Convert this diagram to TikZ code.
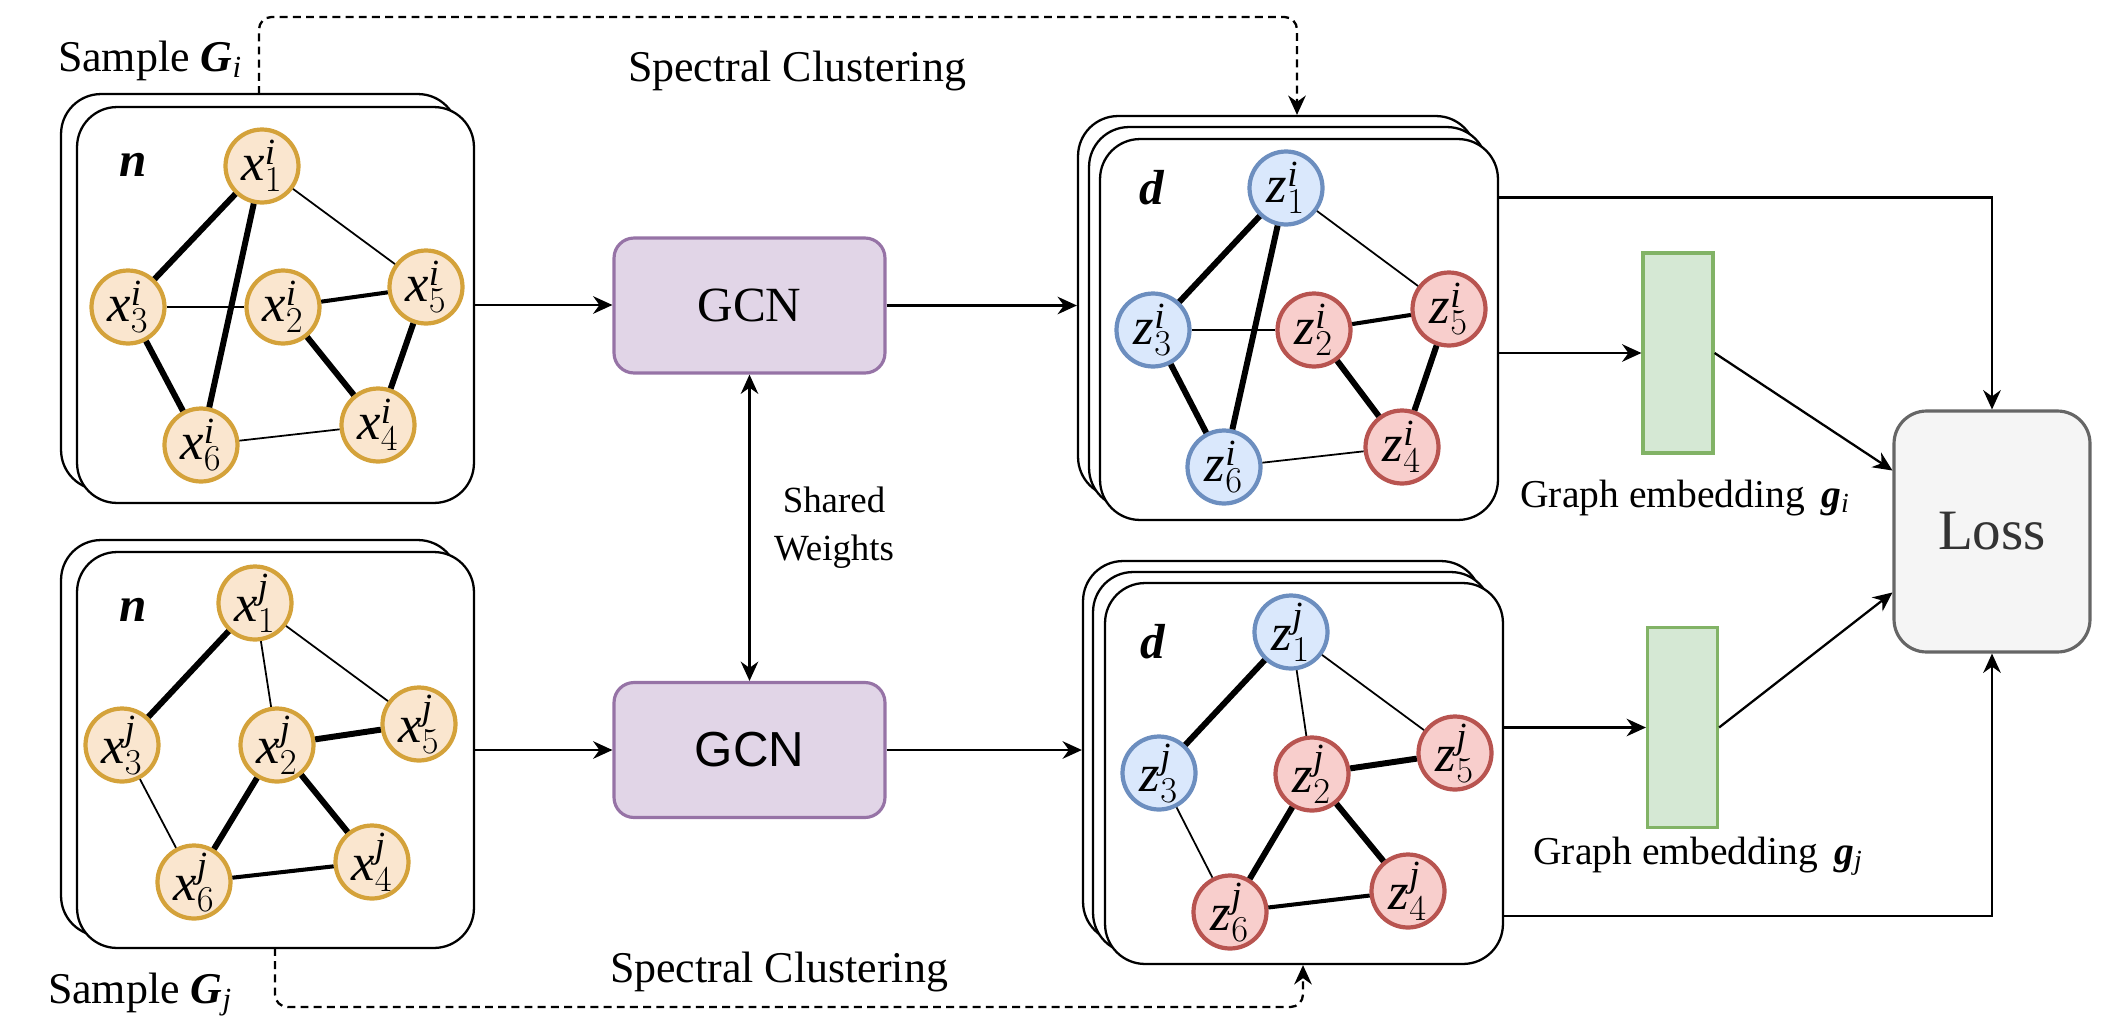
\documentclass[tikz,border=0pt]{standalone}
\usepackage{fontspec}
\setmainfont{Liberation Serif}
\newfontfamily\gcnsans{Liberation Sans}
\usetikzlibrary{positioning}
\usetikzlibrary{arrows.meta}
\definecolor{xfill}{HTML}{FAE6CF}
\definecolor{xdraw}{HTML}{D4A23A}
\definecolor{bfill}{HTML}{DAE8FC}
\definecolor{bdraw}{HTML}{6C8EBF}
\definecolor{rfill}{HTML}{F8CECC}
\definecolor{rdraw}{HTML}{B85450}
\definecolor{gfill}{HTML}{E1D5E7}
\definecolor{gdraw}{HTML}{9673A6}
\definecolor{efill}{HTML}{D5E8D4}
\definecolor{edraw}{HTML}{82B366}
\definecolor{lfill}{HTML}{F5F5F5}
\definecolor{ldraw}{HTML}{666666}
\definecolor{ltext}{HTML}{333333}

\begin{document}
\begin{tikzpicture}[x=0.02cm, y=-0.02cm,
  frameL/.style={draw, fill=white, rounded corners=0.8cm, line width=1.3pt, minimum width=7.94cm, minimum height=7.92cm},
  frameZ/.style={frameL, minimum width=7.96cm, minimum height=7.62cm},
  xnode/.style={circle, draw=xdraw, fill=xfill, line width=2.4pt, minimum size=1.46cm, inner sep=0pt, font=\fontsize{30}{34}\selectfont},
  bnode/.style={xnode, draw=bdraw, fill=bfill},
  rnode/.style={xnode, draw=rdraw, fill=rfill},
  ledge/.style={line width=1pt},
  medge/.style={line width=2.3pt},
  hedge/.style={line width=3.4pt},
  arrow/.style={-{Stealth[length=11pt,width=10pt]}, line width=1.3pt},
  scarrow/.style={arrow, dash pattern=on 4.5pt off 3pt, rounded corners=0.25cm},
  gcn/.style={draw=gdraw, fill=gfill, rounded corners=0.4cm, line width=1.8pt, minimum width=5.42cm, minimum height=2.7cm, font=\fontsize{28}{32}\selectfont},
  emb/.style={draw=edraw, fill=efill, line width=1.8pt, minimum width=1.4cm, minimum height=4cm},
  lbl/.style={font=\fontsize{25}{30}\selectfont},
  dim/.style={font=\fontsize{28}{30}\selectfont\bfseries\itshape}
]
\useasboundingbox (0,0) rectangle (2110,1028);

% Input graphs
\node[frameL] (fxa0) at (259.5,292) {};
\node[frameL] (fxa) at (275.5,305) {};
\node[frameL] (fxb0) at (259.5,738) {};
\node[frameL] (fxb) at (275.5,750) {};
\node[dim] (na) at (133,165) {n};
\node[dim] (nb) at (133,610) {n};

\node[xnode] (xa1) at (262,166) {$\mathit{x}^{\mathit{i}}_{1}$};
\node[xnode] (xa2) at (283,307) {$\mathit{x}^{\mathit{i}}_{2}$};
\node[xnode] (xa3) at (128,307) {$\mathit{x}^{\mathit{i}}_{3}$};
\node[xnode] (xa4) at (378,425) {$\mathit{x}^{\mathit{i}}_{4}$};
\node[xnode] (xa5) at (426,287) {$\mathit{x}^{\mathit{i}}_{5}$};
\node[xnode] (xa6) at (201,445) {$\mathit{x}^{\mathit{i}}_{6}$};
\draw[hedge] (xa1) -- (xa3);
\draw[hedge] (xa1) -- (xa6);
\draw[ledge] (xa1) -- (xa5);
\draw[ledge] (xa3) -- (xa2);
\draw[medge] (xa2) -- (xa5);
\draw[hedge] (xa2) -- (xa4);
\draw[hedge] (xa5) -- (xa4);
\draw[hedge] (xa3) -- (xa6);
\draw[ledge] (xa6) -- (xa4);

\node[xnode] (xb1) at (255,603) {$\mathit{x}^{\mathit{j}}_{1}$};
\node[xnode] (xb2) at (277,745) {$\mathit{x}^{\mathit{j}}_{2}$};
\node[xnode] (xb3) at (122,745) {$\mathit{x}^{\mathit{j}}_{3}$};
\node[xnode] (xb4) at (372,862) {$\mathit{x}^{\mathit{j}}_{4}$};
\node[xnode] (xb5) at (419,724) {$\mathit{x}^{\mathit{j}}_{5}$};
\node[xnode] (xb6) at (194,882) {$\mathit{x}^{\mathit{j}}_{6}$};
\draw[hedge] (xb1) -- (xb3);
\draw[ledge] (xb1) -- (xb2);
\draw[ledge] (xb1) -- (xb5);
\draw[hedge] (xb2) -- (xb5);
\draw[hedge] (xb2) -- (xb6);
\draw[hedge] (xb2) -- (xb4);
\draw[ledge] (xb3) -- (xb6);
\draw[medge] (xb6) -- (xb4);

\node[lbl, anchor=base] (sampa) at (150,71) {Sample \textbf{\textit{G}}$_{\mathit{i}}$};
\node[lbl, anchor=base] (sampb) at (140,1003) {Sample \textbf{\textit{G}}$_{\mathit{j}}$};

% Encoders
\node[gcn] (gcna) at (749.5,305.5) {GCN};
\node[gcn] (gcnb) at (749.5,750) {\gcnsans GCN};
\draw[arrow, {Stealth[length=11pt,width=10pt]}-{Stealth[length=11pt,width=10pt]}] (gcna) -- (gcnb)
  node[midway, right=0.35cm, align=center, font=\fontsize{21}{27}\selectfont] {Shared\\Weights};
\draw[arrow] (fxa.east) -- (fxa.east -| gcna.west);
\draw[arrow] (fxb.east) -- (fxb.east -| gcnb.west);

% Output graphs
\node[frameZ] (fza2) at (1277,306.5) {};
\node[frameZ] (fza1) at (1288,317.5) {};
\node[frameZ] (fza) at (1299,329.5) {};
\node[frameZ] (fzb2) at (1282,751.5) {};
\node[frameZ] (fzb1) at (1292,762.5) {};
\node[frameZ] (fzb) at (1304,773.5) {};
\node[dim] (da) at (1152,188) {d};
\node[dim] (db) at (1153,642) {d};
\draw[arrow] (gcna.east) -- (gcna.east -| fza2.west);
\draw[arrow] (gcnb.east) -- (gcnb.east -| fzb2.west);

\node[bnode] (za1) at (1286,188) {$\mathit{z}^{\mathit{i}}_{1}$};
\node[rnode] (za2) at (1314,330) {$\mathit{z}^{\mathit{i}}_{2}$};
\node[bnode] (za3) at (1153,330) {$\mathit{z}^{\mathit{i}}_{3}$};
\node[rnode] (za4) at (1402,447) {$\mathit{z}^{\mathit{i}}_{4}$};
\node[rnode] (za5) at (1449,309) {$\mathit{z}^{\mathit{i}}_{5}$};
\node[bnode] (za6) at (1224,467) {$\mathit{z}^{\mathit{i}}_{6}$};
\draw[hedge] (za1) -- (za3);
\draw[hedge] (za1) -- (za6);
\draw[ledge] (za1) -- (za5);
\draw[ledge] (za3) -- (za2);
\draw[medge] (za2) -- (za5);
\draw[hedge] (za2) -- (za4);
\draw[hedge] (za5) -- (za4);
\draw[hedge] (za3) -- (za6);
\draw[ledge] (za6) -- (za4);

\node[bnode] (zb1) at (1291,632) {$\mathit{z}^{\mathit{j}}_{1}$};
\node[rnode] (zb2) at (1312,774) {$\mathit{z}^{\mathit{j}}_{2}$};
\node[bnode] (zb3) at (1159,773) {$\mathit{z}^{\mathit{j}}_{3}$};
\node[rnode] (zb4) at (1408,891) {$\mathit{z}^{\mathit{j}}_{4}$};
\node[rnode] (zb5) at (1455,753) {$\mathit{z}^{\mathit{j}}_{5}$};
\node[rnode] (zb6) at (1230,912) {$\mathit{z}^{\mathit{j}}_{6}$};
\draw[hedge] (zb1) -- (zb3);
\draw[ledge] (zb1) -- (zb2);
\draw[ledge] (zb1) -- (zb5);
\draw[hedge] (zb2) -- (zb5);
\draw[hedge] (zb2) -- (zb6);
\draw[hedge] (zb2) -- (zb4);
\draw[ledge] (zb3) -- (zb6);
\draw[medge] (zb6) -- (zb4);

% Spectral clustering
\coordinate (sca) at (259,94);
\coordinate (scat) at (1297,17);
\coordinate (scb) at (275,948);
\coordinate (scbt) at (1303,1007);
\draw[scarrow] (sca) |- (scat) -- (scat |- fza2.north);
\draw[scarrow] (scb) |- (scbt) -- (scbt |- fzb.south);
\node[lbl, anchor=base] (scla) at (797,81) {Spectral Clustering};
\node[lbl, anchor=base] (sclb) at (779,982) {Spectral Clustering};

% Embeddings and loss
\node[emb] (ga) at (1678,353) {};
\node[emb] (gb) at (1682.5,727.5) {};
\node[font=\fontsize{22.5}{27}\selectfont, anchor=base] (gla) at (1685,507) {Graph embedding~\,\textbf{\textit{g}}$_{\mathit{i}}$};
\node[font=\fontsize{22.5}{27}\selectfont, anchor=base] (glb) at (1698,864) {Graph embedding~\,\textbf{\textit{g}}$_{\mathit{j}}$};
\node[draw=ldraw, fill=lfill, rounded corners=0.65cm, line width=1.8pt, minimum width=3.92cm, minimum height=4.82cm,
  text=ltext, font=\fontsize{32.5}{36}\selectfont] (loss) at (1992,531.5) {Loss};

\draw[arrow] (fza.east |- ga.west) -- (ga.west);
\draw[arrow] (fzb.east |- gb.west) -- (gb.west);
\draw[arrow] (ga.east) -- ([yshift=1.22cm]loss.west);
\draw[arrow] (gb.east) -- ([yshift=-1.22cm]loss.west);
\draw[arrow] (fza.east) ++(0,-132) -| (loss.north);
\draw[arrow] (fzb.east) ++(0,142.5) -| (loss.south);
\end{tikzpicture}
\end{document}
